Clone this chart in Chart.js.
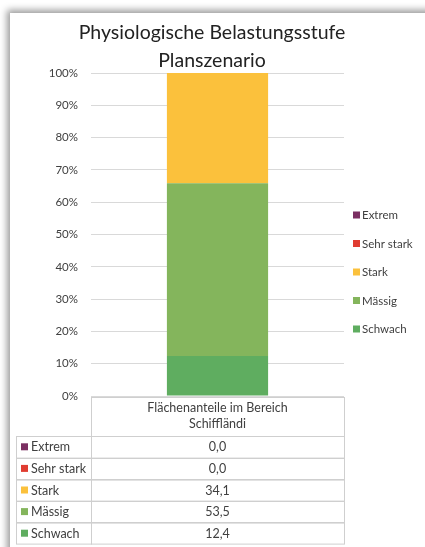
<!DOCTYPE html>
<html>
<head>
<meta charset="utf-8">
<script src="https://cdn.jsdelivr.net/npm/chart.js@4/dist/chart.umd.min.js"></script>
<style>
  html, body { margin: 0; padding: 0; background: #fff; overflow: hidden; }
  #wrap { position: relative; width: 425px; height: 547px; overflow: hidden; }
  #frame { position: absolute; left: 10px; top: 13px; width: 440px; height: 560px;
           background: #fff; box-shadow: -3px -3px 7px rgba(0,0,0,0.4); }
  canvas { position: absolute; left: 0; top: 0; }
</style>
</head>
<body>
<div id="wrap">
  <div id="frame"></div>
  <canvas id="myChart" width="425" height="547"></canvas>
</div>
<script>
const title = ['Physiologische Belastungsstufe', 'Planszenario'];
const categories = ['Flächenanteile im Bereich Schiffländi'];
const categoryLines = ['Flächenanteile im Bereich', 'Schiffländi'];
// stacking order bottom -> top
const levels = ['Schwach', 'Mässig', 'Stark', 'Sehr stark', 'Extrem'];
const values = [12.4, 53.5, 34.1, 0.0, 0.0];
const colors = ['#5fad60', '#84b55c', '#fbc13c', '#e03c31', '#7b2f62'];
const yTicks = [0, 10, 20, 30, 40, 50, 60, 70, 80, 90, 100];

const FONT = 'Lato, "Open Sans", sans-serif';
const TEXT = '#404040';
const LINE = '#cfcfcf';

// title, legend and data table drawn on the canvas
const extras = {
  id: 'extras',
  afterDraw(chart) {
    const ctx = chart.ctx;
    const area = chart.chartArea;
    ctx.save();
    ctx.fillStyle = '#222';
    ctx.textAlign = 'center';
    ctx.textBaseline = 'middle';
    ctx.font = '19.5px ' + FONT;
    ctx.fillText(title[0], 212, 33);
    ctx.fillText(title[1], 212, 61);

    // legend on the right, top entry = top of stack
    ctx.font = '11.5px ' + FONT;
    ctx.textAlign = 'left';
    for (let i = levels.length - 1, k = 0; i >= 0; i--, k++) {
      const y = 215 + k * 28.5;
      ctx.fillStyle = colors[i];
      ctx.fillRect(353, y - 3.5, 7, 7);
      ctx.fillStyle = TEXT;
      ctx.fillText(levels[i], 362, y + 0.5);
    }

    // data table
    const left = 16, mid = area.left, right = area.right;
    const top = area.bottom + 1, headH = 39, rowH = 21.6;
    ctx.font = '12.5px ' + FONT;
    ctx.strokeStyle = LINE;
    ctx.lineWidth = 1;
    ctx.strokeRect(mid + 0.5, top + 0.5, right - mid, headH);
    ctx.fillStyle = TEXT;
    ctx.textAlign = 'center';
    ctx.fillText(categoryLines[0], (mid + right) / 2, top + 11);
    ctx.fillText(categoryLines[1], (mid + right) / 2, top + 27);
    for (let i = levels.length - 1, k = 0; i >= 0; i--, k++) {
      const y = top + headH + k * rowH;
      ctx.strokeStyle = LINE;
      ctx.strokeRect(left + 0.5, Math.round(y) + 0.5, mid - left, rowH);
      ctx.strokeRect(mid + 0.5, Math.round(y) + 0.5, right - mid, rowH);
      ctx.fillStyle = colors[i];
      ctx.fillRect(left + 5, y + rowH / 2 - 3.5, 7, 7);
      ctx.fillStyle = TEXT;
      ctx.textAlign = 'left';
      ctx.fillText(levels[i], left + 15, y + rowH / 2 + 0.5);
      ctx.textAlign = 'center';
      ctx.fillText(values[i].toFixed(1).replace('.', ','), (mid + right) / 2, y + rowH / 2 + 0.5);
    }
    ctx.restore();
  }
};

new Chart(document.getElementById('myChart').getContext('2d'), {
  type: 'bar',
  data: {
    labels: categories,
    datasets: levels.map((l, i) => ({
      label: l,
      data: [values[i]],
      backgroundColor: colors[i],
      borderWidth: 0
    }))
  },
  options: {
    responsive: false,
    animation: false,
    devicePixelRatio: 1,
    layout: { padding: { left: 0, top: 73, right: 81, bottom: 151 } },
    categoryPercentage: 1,
    barPercentage: 0.4,
    plugins: { legend: { display: false }, title: { display: false }, tooltip: { enabled: false } },
    scales: {
      x: { stacked: true, display: false },
      y: {
        stacked: true,
        min: 0,
        max: 100,
        afterFit(s) { s.width = 91; },
        afterBuildTicks(s) { s.ticks = yTicks.map(v => ({ value: v })); },
        border: { display: false },
        grid: { color: '#d9d9d9', drawTicks: false },
        ticks: {
          padding: 13,
          color: TEXT,
          font: { family: FONT, size: 11.5 },
          callback: v => v + '%'
        }
      }
    }
  },
  plugins: [extras]
});
</script>
</body>
</html>
